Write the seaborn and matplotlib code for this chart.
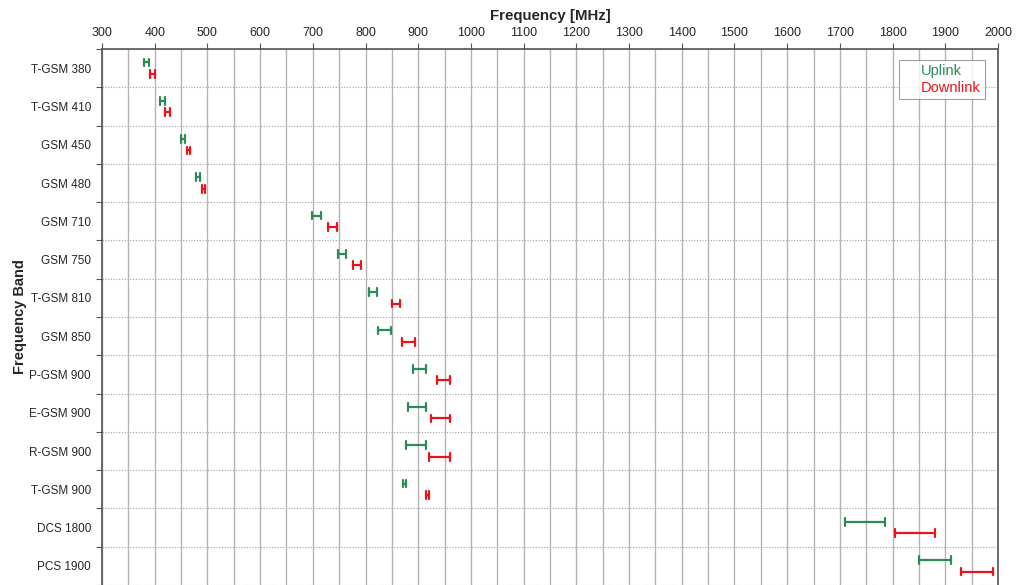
import pandas as pd
import seaborn as sns
import matplotlib.pyplot as plt
from matplotlib.lines import Line2D
from matplotlib.ticker import MultipleLocator, FixedLocator

# frequency bands (MHz)
bands = ["T-GSM 380", "T-GSM 410", "GSM 450", "GSM 480", "GSM 710", "GSM 750",
         "T-GSM 810", "GSM 850", "P-GSM 900", "E-GSM 900", "R-GSM 900",
         "T-GSM 900", "DCS 1800", "PCS 1900"]
ul_low = [380.2, 410.2, 450.4, 478.8, 698, 747, 806, 824, 890, 880, 876, 870.4, 1710, 1850]
ul_high = [389.8, 419.8, 457.6, 486, 716, 762, 821, 849, 915, 915, 915, 876, 1785, 1910]
dl_low = [390.2, 420.2, 460.4, 488.8, 728, 777, 851, 869, 935, 925, 921, 915.4, 1805, 1930]
dl_high = [399.8, 429.8, 467.6, 496, 746, 792, 866, 894, 960, 960, 960, 921, 1880, 1990]

rows = []
for i, b in enumerate(bands):
    rows.append((b, "Uplink", ul_low[i]))
    rows.append((b, "Uplink", ul_high[i]))
    rows.append((b, "Downlink", dl_low[i]))
    rows.append((b, "Downlink", dl_high[i]))
df = pd.DataFrame(rows, columns=["band", "link", "freq"])

colors = {"Uplink": "#2e8b57", "Downlink": "#e8141c"}

sns.set_style("white")
plt.rcParams["font.family"] = ["Liberation Sans", "DejaVu Sans"]

fig = plt.figure(figsize=(10.21, 5.85), dpi=100)
ax = fig.add_axes([102 / 1021, 0.0, 896 / 1021, 536 / 585])

sns.pointplot(data=df, x="freq", y="band", hue="link", order=bands,
              hue_order=["Uplink", "Downlink"], palette=colors,
              errorbar=lambda v: (v.min(), v.max()), dodge=0.3,
              capsize=0.2, markers="", linestyle="none",
              err_kws={"linewidth": 1.6}, legend=False, ax=ax)

ax.set_xlim(300, 2000)
ax.set_ylim(len(bands) - 0.5, -0.5)
ax.xaxis.tick_top()
ax.xaxis.set_label_position("top")
ax.xaxis.set_major_locator(MultipleLocator(100))
ax.xaxis.set_minor_locator(MultipleLocator(50))
ax.yaxis.set_minor_locator(FixedLocator([i + 0.5 for i in range(-1, len(bands))]))
ax.tick_params(axis="x", which="major", length=4, width=0.8, color="#555555",
               labelsize=9, pad=3)
ax.tick_params(axis="x", which="minor", length=0)
ax.tick_params(axis="y", which="major", length=0, labelsize=8.5, pad=8)
ax.tick_params(axis="y", which="minor", left=True, length=4, width=0.8, color="#555555")

ax.grid(axis="x", which="both", color="#b4b4b4", linewidth=1.0)
ax.grid(axis="y", which="minor", color="#a0a0a0", linewidth=0.8, linestyle=(0, (1, 1.5)))
ax.set_axisbelow(True)

for side in ["left", "top", "right"]:
    ax.spines[side].set_color("#555555")
    ax.spines[side].set_linewidth(1.2)
ax.spines["bottom"].set_visible(False)

ax.set_xlabel("Frequency [MHz]", fontsize=10.8, fontweight="bold", labelpad=5)
ax.set_ylabel("Frequency Band", fontsize=10.5, fontweight="bold", labelpad=1)

handles = [Line2D([], [], color="none") for _ in range(2)]
leg = ax.legend(handles, ["Uplink", "Downlink"], loc="upper right",
                bbox_to_anchor=(0.9855, 0.9795), fontsize=10.5, frameon=True,
                fancybox=False, edgecolor="#888888", handlelength=0.9,
                handletextpad=0.3, borderpad=0.3, labelspacing=0.15,
                borderaxespad=0)
leg.get_frame().set_linewidth(0.8)
for t in leg.get_texts():
    t.set_color(colors[t.get_text()])

fig.savefig("out.png", dpi=100)
